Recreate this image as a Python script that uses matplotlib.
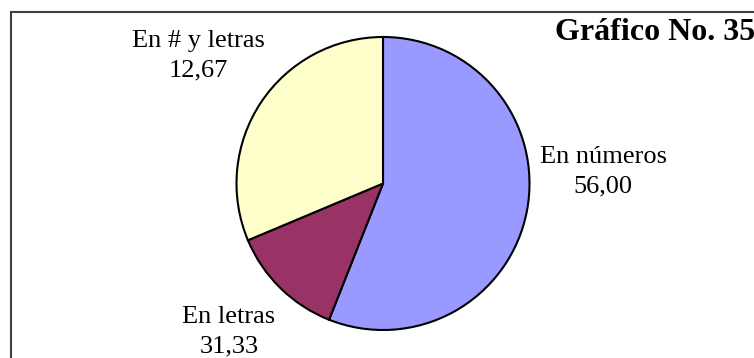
import matplotlib
matplotlib.use("Agg")
import matplotlib.pyplot as plt
from matplotlib.patches import Rectangle

# Forma de escribir las cantidades (porcentaje)
categorias = ['En números', 'En # y letras', 'En letras']
valores = [56.00, 12.67, 31.33]
colores = ['#9999FF', '#993366', '#FFFFCC']

# posiciones de las etiquetas (pixeles, origen abajo a la izquierda)
pos_etiquetas = {
    'En números': (603, 186),
    'En # y letras': (198, 302),
    'En letras': (229, 26),
}

plt.rcParams['font.family'] = ['Liberation Serif', 'DejaVu Serif']

W, H = 754, 358
fig = plt.figure(figsize=(W / 100, H / 100), dpi=100)
ax = fig.add_axes([0, 0, 1, 1])

ax.pie(valores, colors=colores, startangle=90, counterclock=False,
       center=(383, 174.5), radius=146.5,
       wedgeprops=dict(edgecolor='black', linewidth=1.5))
ax.set_xlim(0, W)
ax.set_ylim(0, H)
ax.set_aspect('equal')
ax.axis('off')

for cat, val in zip(categorias, valores):
    x, y = pos_etiquetas[cat]
    txt = f"{cat}\n{val:.2f}".replace('.', ',')
    ax.text(x, y, txt, ha='center', va='center', fontsize=19,
            linespacing=1.42, multialignment='center')

ax.text(655, 326, 'Gráfico No. 35', ha='center', va='center',
        fontsize=23, fontweight='bold')

# marco del grafico (sigue fuera del borde derecho e inferior)
fig.patches.append(Rectangle((11 / W, -0.1), 1.2, 1.1 - 12 / H, transform=fig.transFigure,
                             fill=False, edgecolor='#404040', linewidth=1.5))

fig.savefig('out.png', dpi=100)
